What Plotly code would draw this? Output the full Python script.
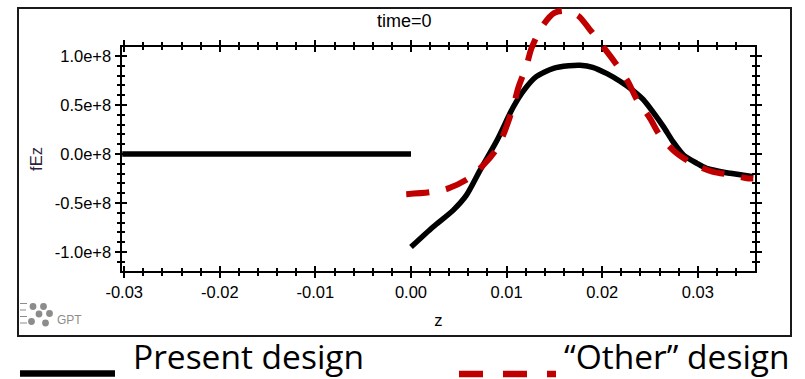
import plotly.graph_objects as go

# ---------------- data ----------------
z_present = [-0.0302, 0.0, None,
             0.0, 0.0023, 0.0044, 0.0058, 0.0072, 0.0090, 0.0107, 0.0118, 0.0131,
             0.0149, 0.0165, 0.0177, 0.0190, 0.0205, 0.0219, 0.0232, 0.0243, 0.0253,
             0.0264, 0.0274, 0.0285, 0.0299, 0.0309, 0.0334, 0.0358]
fez_present = [0.0, 0.0, None,
               -0.95e8, -0.745e8, -0.575e8, -0.42e8, -0.17e8, 0.14e8, 0.48e8, 0.65e8, 0.79e8,
               0.875e8, 0.90e8, 0.905e8, 0.885e8, 0.82e8, 0.74e8, 0.65e8, 0.555e8, 0.43e8,
               0.279e8, 0.126e8, -0.01e8, -0.095e8, -0.146e8, -0.197e8, -0.232e8]

z_other = [-0.0005, 0.0020, 0.0039, 0.0060, 0.0076, 0.0091, 0.0107, 0.0112, 0.0121,
           0.0126, 0.0137, 0.0150, 0.0162, 0.0175, 0.0186, 0.0201, 0.0213, 0.0227,
           0.0236, 0.0250, 0.0260, 0.0276, 0.0294, 0.0315, 0.0336, 0.0351, 0.0358]
fez_other = [-0.41e8, -0.39e8, -0.35e8, -0.25e8, -0.11e8, 0.075e8, 0.483e8, 0.67e8, 0.908e8,
             1.079e8, 1.30e8, 1.44e8, 1.46e8, 1.41e8, 1.283e8, 1.095e8, 0.94e8, 0.738e8,
             0.56e8, 0.364e8, 0.194e8, 0.023e8, -0.095e8, -0.18e8, -0.214e8, -0.248e8, -0.25e8]

x_tickvals = [-0.03, -0.02, -0.01, 0.0, 0.01, 0.02, 0.03]
x_ticktext = ["-0.03", "-0.02", "-0.01", "0.00", "0.01", "0.02", "0.03"]
y_tickvals = [-1.0e8, -0.5e8, 0.0, 0.5e8, 1.0e8]
y_ticktext = ["-1.0e+8", "-0.5e+8", "0.0e+8", "0.5e+8", "1.0e+8"]

title_text = "time=0"
x_title = "z"
y_title = "fEz"
legend_present = "Present design"
legend_other = "\u201cOther\u201d design"

# ---------------- layout geometry ----------------
W, H = 805, 379
def px(x):
    return x / W
def py(y):
    return 1 - y / H

PL, PR, PT, PB = 121.5, 755.0, 47.0, 271.0   # plot area in pixels
X_RANGE = [-0.03028, 0.03598]
Y_RANGE = [-1.194e8, 1.092e8]
PT2 = 5.0
Y2_TOP = Y_RANGE[0] + (Y_RANGE[1] - Y_RANGE[0]) * (PB - PT2) / (PB - PT)

RED = "#c00000"
TICKFONT = dict(family="Liberation Sans, Arial, sans-serif", size=16.5, color="#000000")

fig = go.Figure()

fig.add_trace(go.Scatter(x=z_present, y=fez_present, mode="lines",
                         line=dict(color="#000000", width=5.5, shape="spline", smoothing=0.7),
                         connectgaps=False, showlegend=False,
                         xaxis="x", yaxis="y", name=legend_present))
fig.add_trace(go.Scatter(x=z_other, y=fez_other, mode="lines",
                         line=dict(color=RED, width=6, dash="23px,17px", shape="spline", smoothing=0.8),
                         showlegend=False, xaxis="x2", yaxis="y2", name=legend_other))
# helper subplot for the inward half of the crossing ticks
fig.add_trace(go.Scatter(x=[None], y=[None], mode="lines", showlegend=False,
                         xaxis="x3", yaxis="y3", hoverinfo="skip"))

common_x = dict(range=X_RANGE, domain=[px(PL), px(PR)], tickvals=x_tickvals,
                ticktext=x_ticktext, tickwidth=1.5, tickcolor="#000",
                showgrid=False, zeroline=False, fixedrange=True)
common_y = dict(range=Y_RANGE, domain=[py(PB), py(PT)], tickvals=y_tickvals,
                ticktext=y_ticktext, tickwidth=1.5, tickcolor="#000",
                showgrid=False, zeroline=False, fixedrange=True)

fig.update_layout(
    width=W, height=H,
    margin=dict(l=0, r=0, t=0, b=0, autoexpand=False),
    paper_bgcolor="#ffffff", plot_bgcolor="rgba(0,0,0,0)",
    showlegend=False,
    xaxis=dict(**common_x, anchor="y", ticks="outside", ticklen=5, mirror="ticks",
               showline=True, linewidth=2, linecolor="#000",
               tickfont=TICKFONT,
               minor=dict(tickmode="linear", tick0=0, dtick=0.002, ticks="outside",
                          ticklen=3, tickwidth=1.5, tickcolor="#000", showgrid=False),
               title=dict(text=x_title, standoff=15,
                          font=dict(family="Liberation Sans, Arial, sans-serif", size=16.5, color="#000"))),
    yaxis=dict(**common_y, anchor="x", ticks="outside", ticklen=5, mirror="ticks",
               showline=True, linewidth=2, linecolor="#000",
               tickfont=TICKFONT,
               minor=dict(tickmode="linear", tick0=0, dtick=0.1e8, ticks="outside",
                          ticklen=3, tickwidth=1.5, tickcolor="#000", showgrid=False),
               title=dict(text=y_title, standoff=8,
                          font=dict(family="Liberation Sans, Arial, sans-serif", size=16.5, color="#2e1f3e"))),
    xaxis2=dict(range=X_RANGE, domain=[px(PL), px(PR)], anchor="y2", visible=False, fixedrange=True),
    yaxis2=dict(range=[Y_RANGE[0], Y2_TOP], domain=[py(PB), py(PT2)], anchor="x2",
                visible=False, fixedrange=True),
    xaxis3=dict(**common_x, anchor="y3", overlaying="x", ticks="inside", ticklen=5,
                mirror="ticks", showline=False, showticklabels=False,
                minor=dict(tickmode="linear", tick0=0, dtick=0.002, ticks="inside",
                           ticklen=3, tickwidth=1.5, tickcolor="#000", showgrid=False)),
    yaxis3=dict(**common_y, anchor="x3", overlaying="y", ticks="inside", ticklen=5,
                mirror="ticks", showline=False, showticklabels=False,
                minor=dict(tickmode="linear", tick0=0, dtick=0.1e8, ticks="inside",
                           ticklen=3, tickwidth=1.5, tickcolor="#000", showgrid=False)),
)

shapes = []
# outer frame
shapes.append(dict(type="rect", xref="paper", yref="paper",
                   x0=px(18), x1=px(791), y0=py(336), y1=py(8),
                   line=dict(color="#1a1a1a", width=2), layer="below"))
# legend samples
shapes.append(dict(type="line", xref="paper", yref="paper",
                   x0=px(20), x1=px(115), y0=py(373.5), y1=py(373.5),
                   line=dict(color="#000", width=6.5)))
shapes.append(dict(type="line", xref="paper", yref="paper",
                   x0=px(459), x1=px(556), y0=py(374), y1=py(374),
                   line=dict(color=RED, width=6.5, dash="24px,20px")))
# GPT logo (decoration)
GREY = "#8c8c8c"
for (cx, cy) in [(33, 306.5), (43.5, 306.5), (39, 314), (49.5, 313.5), (31.5, 321.5), (45.5, 323)]:
    shapes.append(dict(type="circle", xref="paper", yref="paper",
                       x0=px(cx - 3.4), x1=px(cx + 3.4), y0=py(cy + 3.4), y1=py(cy - 3.4),
                       fillcolor=GREY, line=dict(width=0)))
for (ly, lx1) in [(303.5, 27), (310, 26), (316.5, 27), (323, 27)]:
    shapes.append(dict(type="line", xref="paper", yref="paper",
                       x0=px(20), x1=px(lx1), y0=py(ly), y1=py(ly),
                       line=dict(color=GREY, width=1)))
fig.update_layout(shapes=shapes)

annotations = [
    dict(text=title_text, xref="paper", yref="paper", x=px(404), y=py(21),
         xanchor="center", yanchor="middle", showarrow=False,
         font=dict(family="Liberation Sans, Arial, sans-serif", size=18, color="#000")),
    dict(text="GPT", xref="paper", yref="paper", x=px(55), y=py(320),
         xanchor="left", yanchor="middle", showarrow=False,
         font=dict(family="Liberation Sans, Arial, sans-serif", size=12, color=GREY)),
    dict(text=legend_present, xref="paper", yref="paper", x=px(131), y=py(356),
         xanchor="left", yanchor="middle", showarrow=False,
         font=dict(family="Open Sans, sans-serif", size=33.5, color="#000")),
    dict(text=legend_other, xref="paper", yref="paper", x=px(562), y=py(356),
         xanchor="left", yanchor="middle", showarrow=False,
         font=dict(family="Open Sans, sans-serif", size=33.5, color="#000")),
]
fig.update_layout(annotations=annotations)

fig.write_html("out.html")
